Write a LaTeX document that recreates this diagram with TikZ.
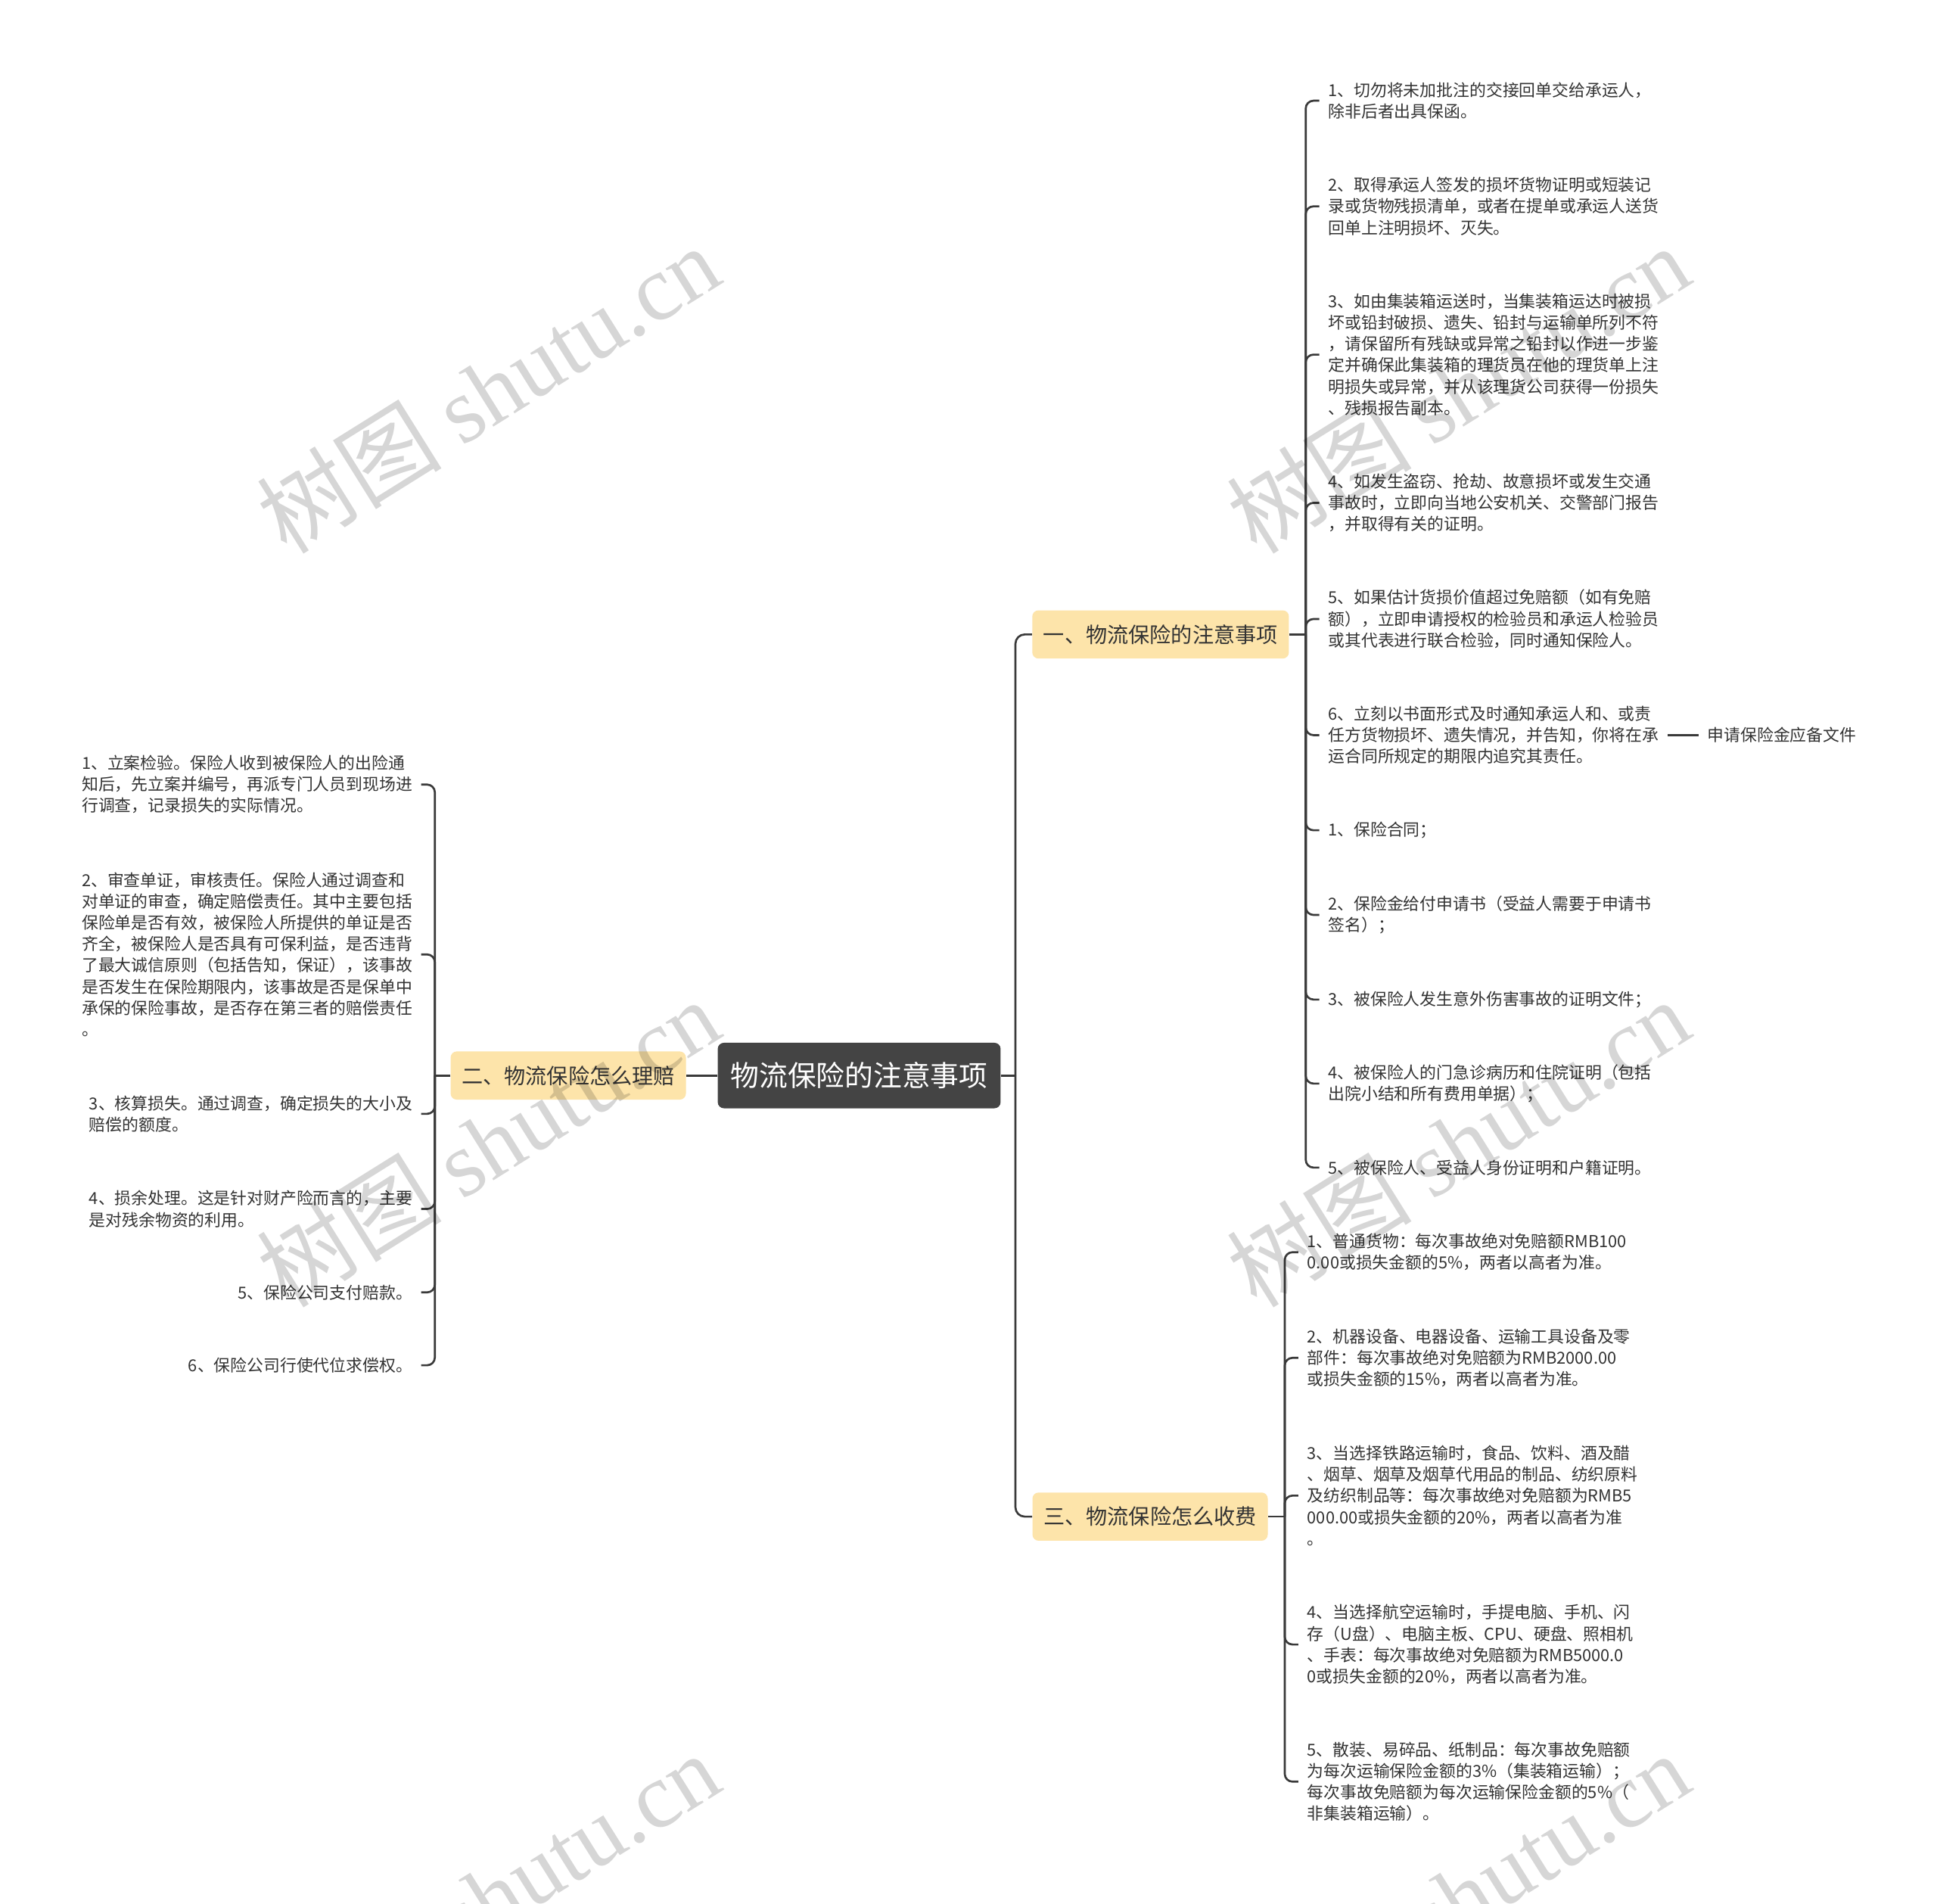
\documentclass[tikz,border=0pt]{standalone}
\usepackage{fontspec}
\setmainfont{Noto Sans CJK SC}
\newfontfamily\cjk{Noto Sans CJK SC}
\newfontfamily\wmlatin{Liberation Serif}
\definecolor{rootc}{HTML}{444444}
\definecolor{branchc}{HTML}{FDE4AA}
\definecolor{textc}{HTML}{333333}
\definecolor{linec}{HTML}{3A3A3A}
\begin{document}
\begin{tikzpicture}[x=0.8pt,y=-0.8pt,
  conn/.style={draw=linec, line width=1.3pt},
  rootbox/.style={fill=rootc, rounded corners=4pt, minimum width=183.2pt, minimum height=42.4pt, text=white, font=\fontsize{18.5}{22}\selectfont, inner sep=0pt},
  branchbox/.style={fill=branchc, rounded corners=4pt, minimum height=31.2pt, text=textc, font=\fontsize{13.8}{16}\selectfont, inner xsep=7.2pt, inner ysep=0pt},
  leaf/.style={text=textc, font=\fontsize{10.7}{13.8}\selectfont, align=left, inner xsep=5.6pt, inner ysep=0pt},
  wm/.style={text=black, text opacity=0.16, font=\fontsize{60}{60}\selectfont, inner sep=0pt, rotate=32}
]
\useasboundingbox[fill=white] (0,0) rectangle (1568,1541);

% root and branches
\node[rootbox] (root) at (695.5,870.5) {物流保险的注意事项};
\node[branchbox] (b1) at (939.5,513.5) {一、物流保险的注意事项};
\node[branchbox] (b2) at (460,870.5) {二、物流保险怎么理赔};
\node[branchbox] (b3) at (931,1227.5) {三、物流保险怎么收费};

\coordinate (t) at (822,870.5);
\draw[conn] (root.east) -- (t);
\draw[conn, rounded corners=6pt] (t) |- (b1.west);
\draw[conn, rounded corners=6pt] (t) |- (b3.west);
\draw[conn] (b2.east) -- (root.west);

% branch 1 leaves
\node[leaf, anchor=west] (l1) at (1068,81.5) {1、切勿将未加批注的交接回单交给承运人，\\除非后者出具保函。};
\node[leaf, anchor=west] (l2) at (1068,167) {2、取得承运人签发的损坏货物证明或短装记\\录或货物残损清单，或者在提单或承运人送货\\回单上注明损坏、灭失。};
\node[leaf, anchor=west] (l3) at (1068,287) {3、如由集装箱运送时，当集装箱运达时被损\\坏或铅封破损、遗失、铅封与运输单所列不符\\，请保留所有残缺或异常之铅封以作进一步鉴\\定并确保此集装箱的理货员在他的理货单上注\\明损失或异常，并从该理货公司获得一份损失\\、残损报告副本。};
\node[leaf, anchor=west] (l4) at (1068,407) {4、如发生盗窃、抢劫、故意损坏或发生交通\\事故时，立即向当地公安机关、交警部门报告\\，并取得有关的证明。};
\node[leaf, anchor=west] (l5) at (1068,501) {5、如果估计货损价值超过免赔额（如有免赔\\额），立即申请授权的检验员和承运人检验员\\或其代表进行联合检验，同时通知保险人。};
\node[leaf, anchor=west] (l6) at (1068,595) {6、立刻以书面形式及时通知承运人和、或责\\任方货物损坏、遗失情况，并告知，你将在承\\运合同所规定的期限内追究其责任。};
\node[leaf, anchor=west] (l7) at (1068,672) {1、保险合同；};
\node[leaf, anchor=west] (l8) at (1068,740.5) {2、保险金给付申请书（受益人需要于申请书\\签名）；};
\node[leaf, anchor=west] (l9) at (1068,809) {3、被保险人发生意外伤害事故的证明文件；};
\node[leaf, anchor=west] (l10) at (1068,877) {4、被保险人的门急诊病历和住院证明（包括\\出院小结和所有费用单据）；};
\node[leaf, anchor=west] (l11) at (1068,945) {5、被保险人、受益人身份证明和户籍证明。};
\node[leaf, anchor=west] (l6a) at (1375,595) {申请保险金应备文件};

\coordinate (j1) at (1057,513.5);
\draw[conn] (b1.east) -- (j1);
\foreach \n in {l1,l2,l3,l4,l5,l6,l7,l8,l9,l10,l11}
  \draw[conn, rounded corners=5pt] (j1) |- (\n.west);
\draw[conn] (l6.east) -- (l6a.west);

% branch 2 leaves
\node[leaf, anchor=east] (k1) at (341,635) {1、立案检验。保险人收到被保险人的出险通\\知后，先立案并编号，再派专门人员到现场进\\行调查，记录损失的实际情况。};
\node[leaf, anchor=east] (k2) at (341,772.5) {2、审查单证，审核责任。保险人通过调查和\\对单证的审查，确定赔偿责任。其中主要包括\\保险单是否有效，被保险人所提供的单证是否\\齐全，被保险人是否具有可保利益，是否违背\\了最大诚信原则（包括告知，保证），该事故\\是否发生在保险期限内，该事故是否是保单中\\承保的保险事故，是否存在第三者的赔偿责任\\。};
\node[leaf, anchor=east] (k3) at (341,901.5) {3、核算损失。通过调查，确定损失的大小及\\赔偿的额度。};
\node[leaf, anchor=east] (k4) at (341,978.5) {4、损余处理。这是针对财产险而言的，主要\\是对残余物资的利用。};
\node[leaf, anchor=east] (k5) at (341,1046) {5、保险公司支付赔款。};
\node[leaf, anchor=east] (k6) at (341,1105) {6、保险公司行使代位求偿权。};

\coordinate (j2) at (352,870.5);
\draw[conn] (b2.west) -- (j2);
\foreach \n in {k1,k2,k3,k4,k5,k6}
  \draw[conn, rounded corners=5pt] (j2) |- (\n.east);

% branch 3 leaves
\node[leaf, anchor=west] (m1) at (1051,1013.5) {1、普通货物：每次事故绝对免赔额RMB100\\0.00或损失金额的5\%，两者以高者为准。};
\node[leaf, anchor=west] (m2) at (1051,1099) {2、机器设备、电器设备、运输工具设备及零\\部件：每次事故绝对免赔额为RMB2000.00\\或损失金额的15\%，两者以高者为准。};
\node[leaf, anchor=west] (m3) at (1051,1210.5) {3、当选择铁路运输时，食品、饮料、酒及醋\\、烟草、烟草及烟草代用品的制品、纺织原料\\及纺织制品等：每次事故绝对免赔额为RMB5\\000.00或损失金额的20\%，两者以高者为准\\。};
\node[leaf, anchor=west] (m4) at (1051,1331) {4、当选择航空运输时，手提电脑、手机、闪\\存（U盘）、电脑主板、CPU、硬盘、照相机\\、手表：每次事故绝对免赔额为RMB5000.0\\0或损失金额的20\%，两者以高者为准。};
\node[leaf, anchor=west] (m5) at (1051,1442) {5、散装、易碎品、纸制品：每次事故免赔额\\为每次运输保险金额的3\%（集装箱运输）；\\每次事故免赔额为每次运输保险金额的5\%（\\非集装箱运输）。};

\coordinate (j3) at (1040,1227.5);
\draw[conn] (b3.east) -- (j3);
\foreach \n in {m1,m2,m3,m4,m5}
  \draw[conn, rounded corners=5pt] (j3) |- (\n.west);

% watermarks
\node[wm] (wm1) at (395,315) {{\cjk 树图} {\wmlatin shutu.cn}};
\node[wm] (wm2) at (1180,315) {{\cjk 树图} {\wmlatin shutu.cn}};
\node[wm] (wm3) at (395,925) {{\cjk 树图} {\wmlatin shutu.cn}};
\node[wm] (wm4) at (1180,925) {{\cjk 树图} {\wmlatin shutu.cn}};
\node[wm] (wm5) at (395,1535) {{\cjk 树图} {\wmlatin shutu.cn}};
\node[wm] (wm6) at (1180,1535) {{\cjk 树图} {\wmlatin shutu.cn}};
\end{tikzpicture}
\end{document}
